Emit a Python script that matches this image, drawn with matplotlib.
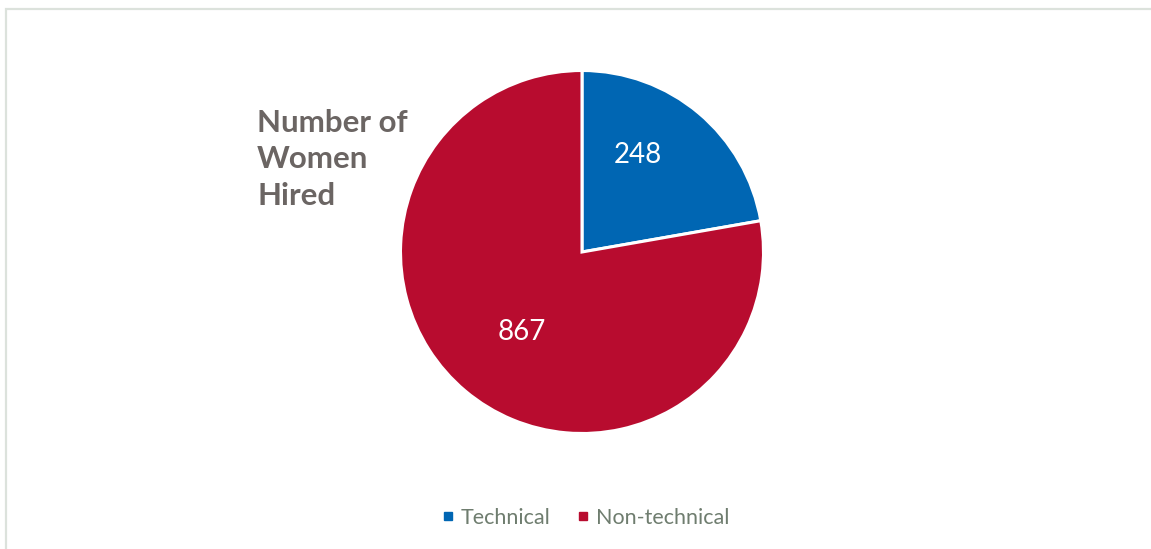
import numpy as np
import matplotlib.pyplot as plt
from matplotlib.lines import Line2D
from matplotlib.patches import Rectangle

plt.rcParams['font.family'] = ['Lato', 'DejaVu Sans']

categories = ['Technical', 'Non-technical']
hired = [248, 867]
colors = ['#0066b3', '#b80c2f']

W, H = 1151, 549
fig = plt.figure(figsize=(W / 100, H / 100), dpi=100)
fig.patch.set_facecolor('white')

# light frame round the chart area (only top and left edges fall inside)
fig.patches.append(Rectangle((5.5 / W, -0.1), 1.2, (H - 8.5) / H + 0.1,
                             transform=fig.transFigure, fill=False,
                             edgecolor='#dce2dc', linewidth=1.6))

cx, cy, r = 582, H - 252, 181.5
ax = fig.add_axes([(cx - r) / W, (cy - r) / H, 2 * r / W, 2 * r / H])

wedges, texts, autotexts = ax.pie(
    hired, colors=colors, startangle=90, counterclock=False,
    autopct=lambda p: '{:.0f}'.format(p * sum(hired) / 100),
    wedgeprops=dict(edgecolor='white', linewidth=2.2),
    textprops=dict(color='white', fontsize=20))

# value labels: angle (deg) and radius inside each slice
label_pos = [(60, 0.62), (-127, 0.55)]
for t, (ang, rad) in zip(autotexts, label_pos):
    t.set_position((rad * np.cos(np.radians(ang)), rad * np.sin(np.radians(ang))))

ax.set_xlim(-1, 1)
ax.set_ylim(-1, 1)
ax.set_aspect('equal')
ax.axis('off')

fig.text(257 / W, 1 - 109 / H, 'Number of\nWomen\nHired', ha='left', va='top',
         fontsize=22.5, fontweight='bold', color='#6b6563', linespacing=1.36)

handles = [Line2D([], [], marker='s', linestyle='none', markersize=6,
                  markerfacecolor=c, markeredgecolor=c) for c in colors]
fig.legend(handles, categories, loc='center', bbox_to_anchor=(583 / W, 1 - 518 / H),
           ncol=2, frameon=False, fontsize=15.5, handletextpad=0.1,
           columnspacing=1.0, handlelength=1.0, labelcolor='#6f7d6f')

fig.savefig('out.png', dpi=100)
